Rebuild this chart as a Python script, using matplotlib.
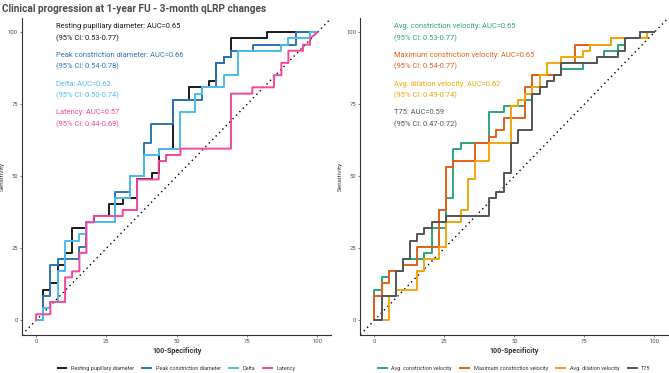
import numpy as np
import matplotlib
matplotlib.use("Agg")
import matplotlib.pyplot as plt

plt.rcParams['font.family'] = ['Roboto', 'DejaVu Sans']

# ROC 曲線的頂點 (100-Specificity, Sensitivity)
resting_x = [0, 2.6, 2.6, 5.1, 5.1, 7.7, 7.7, 10.3, 10.3, 12.8, 12.8, 17.9, 17.9, 20.5, 20.5, 25.8, 25.8, 30.8, 30.8,
             35.9, 35.9, 41.3, 41.3, 43.6, 43.6, 48.7, 48.7, 54.2, 54.2, 61.5, 61.5, 64.0, 64.0, 66.7, 66.7,
             69.3, 69.3, 82.1, 82.1, 100]
resting_y = [0, 0, 10.6, 10.6, 12.8, 12.8, 19.1, 19.1, 23.4, 23.4, 31.9, 31.9, 34.0, 34.0, 36.2, 36.2, 40.4, 40.4, 42.6,
             42.6, 48.9, 48.9, 51.0, 51.0, 59.6, 59.6, 76.6, 76.6, 80.9, 80.9, 83.0, 83.0, 89.4, 89.4, 91.5,
             91.5, 97.9, 97.9, 100, 100]

peak_x = [0, 2.6, 2.6, 5.1, 5.1, 7.7, 7.7, 15.4, 15.4, 17.9, 17.9, 28.2, 28.2, 33.3, 33.3, 38.3, 38.3, 41.0, 41.0,
          48.7, 48.7, 59.0, 59.0, 64.0, 64.0, 66.7, 66.7, 69.3, 69.3, 77.0, 77.0, 92.5, 92.5, 100]
peak_y = [0, 0, 8.5, 8.5, 19.1, 19.1, 21.3, 21.3, 25.5, 25.5, 34.0, 34.0, 44.7, 44.7, 50.0, 50.0, 61.7, 61.7, 68.1,
          68.1, 76.6, 76.6, 80.9, 80.9, 89.4, 89.4, 91.5, 91.5, 93.6, 93.6, 95.7, 95.7, 100, 100]

delta_x = [0, 2.6, 2.6, 5.1, 5.1, 7.7, 7.7, 10.3, 10.3, 15.4, 15.4, 17.9, 17.9, 28.2, 28.2, 33.3, 33.3, 38.3, 38.3,
           43.6, 43.6, 51.3, 51.3, 56.4, 56.4, 59.0, 59.0, 66.7, 66.7, 71.8, 71.8, 87.2, 87.2, 89.7, 89.7,
           97.4, 97.4, 100]
delta_y = [0, 0, 4.3, 4.3, 6.4, 6.4, 17.0, 17.0, 27.7, 27.7, 29.8, 29.8, 34.0, 34.0, 42.6, 42.6, 50.0, 50.0, 57.4,
           57.4, 59.6, 59.6, 72.3, 72.3, 78.7, 78.7, 80.9, 80.9, 85.1, 85.1, 93.6, 93.6, 95.7, 95.7, 97.9,
           97.9, 100, 100]

latency_x = [0, 0, 5.1, 5.1, 10.3, 10.3, 12.8, 12.8, 15.4, 15.4, 17.9, 17.9, 20.5, 20.5, 30.8, 30.8, 35.9, 35.9,
             43.6, 43.6, 46.2, 46.2, 51.3, 51.3, 69.3, 69.3, 76.9, 76.9, 84.6, 84.6, 87.2, 87.2, 89.7, 89.7,
             94.9, 94.9, 97.4, 97.4, 100]
latency_y = [0, 2.1, 2.1, 6.4, 6.4, 14.9, 14.9, 17.0, 17.0, 23.4, 23.4, 34.0, 34.0, 36.2, 36.2, 38.3, 38.3, 48.9,
             48.9, 55.3, 55.3, 57.4, 57.4, 59.6, 59.6, 78.7, 78.7, 80.9, 80.9, 85.1, 85.1, 89.4, 89.4, 93.6,
             93.6, 95.7, 95.7, 97.9, 100]

avgcon_x = [0, 0, 2.6, 2.6, 5.1, 5.1, 10.3, 10.3, 17.9, 17.9, 20.5, 20.5, 25.6, 25.6, 28.2, 28.2, 30.8, 30.8,
            41.0, 41.0, 46.2, 46.2, 53.8, 53.8, 56.4, 56.4, 66.7, 66.7, 74.4, 74.4, 79.5, 79.5, 82.0, 82.0,
            87.2, 87.2, 89.7, 89.7, 94.9, 94.9, 100, 100]
avgcon_y = [0, 10.6, 10.6, 14.9, 14.9, 17.0, 17.0, 21.3, 21.3, 23.4, 23.4, 31.9, 31.9, 42.6, 42.6, 59.6, 59.6, 61.7,
            61.7, 72.3, 72.3, 74.5, 74.5, 76.6, 76.6, 85.1, 85.1, 87.2, 87.2, 89.4, 89.4, 91.5, 91.5, 93.6,
            93.6, 95.7, 95.7, 97.9, 97.9, 100, 100, 100]

maxcon_x = [0, 0, 2.6, 2.6, 5.1, 5.1, 10.3, 10.3, 15.4, 15.4, 23.1, 23.1, 25.6, 25.6, 28.2, 28.2, 35.9, 35.9,
            41.0, 41.0, 43.6, 43.6, 46.2, 46.2, 53.8, 53.8, 56.4, 56.4, 66.7, 66.7, 71.8, 71.8, 84.6, 84.6,
            97.4, 97.4, 100]
maxcon_y = [0, 8.5, 8.5, 12.8, 12.8, 17.0, 17.0, 19.1, 19.1, 25.5, 25.5, 38.3, 38.3, 53.2, 53.2, 55.3, 55.3, 61.7,
            61.7, 63.8, 63.8, 66.0, 66.0, 70.2, 70.2, 80.9, 80.9, 85.1, 85.1, 89.4, 89.4, 95.7, 95.7, 97.9,
            97.9, 100, 100]

avgdil_x = [0, 5.1, 5.1, 7.7, 7.7, 15.4, 15.4, 17.9, 17.9, 23.1, 23.1, 25.6, 25.6, 30.8, 30.8, 33.3, 33.3, 35.9,
            35.9, 41.0, 41.0, 48.7, 48.7, 51.3, 51.3, 53.8, 53.8, 56.4, 56.4, 59.0, 59.0, 61.5, 61.5, 66.7,
            66.7, 74.4, 74.4, 76.9, 76.9, 84.6, 84.6, 97.4, 97.4, 100]
avgdil_y = [0, 0, 8.5, 8.5, 10.6, 10.6, 17.0, 17.0, 21.3, 21.3, 25.5, 25.5, 34.0, 34.0, 38.3, 38.3, 48.9, 48.9,
            55.3, 55.3, 61.7, 61.7, 74.5, 74.5, 76.6, 76.6, 78.7, 78.7, 80.9, 80.9, 85.1, 85.1, 89.4, 89.4,
            91.5, 91.5, 93.6, 93.6, 95.7, 95.7, 97.9, 97.9, 100, 100]

t75_x = [0, 2.6, 2.6, 7.7, 7.7, 10.3, 10.3, 12.8, 12.8, 15.4, 15.4, 17.9, 17.9, 20.5, 20.5, 25.6, 25.6, 41.0, 41.0,
         43.6, 43.6, 46.2, 46.2, 48.7, 48.7, 51.3, 51.3, 56.4, 56.4, 59.0, 59.0, 61.5, 61.5, 64.1, 64.1, 66.7,
         66.7, 79.5, 79.5, 87.2, 87.2, 89.7, 89.7, 94.9, 94.9, 100]
t75_y = [0, 0, 8.5, 8.5, 17.0, 17.0, 21.3, 21.3, 27.7, 27.7, 29.8, 29.8, 31.9, 31.9, 34.0, 34.0, 36.2, 36.2, 42.6,
         42.6, 44.7, 44.7, 51.0, 51.0, 61.7, 61.7, 66.0, 66.0, 78.7, 78.7, 80.9, 80.9, 83.0, 83.0, 85.1, 85.1,
         89.4, 89.4, 91.5, 91.5, 93.6, 93.6, 97.9, 97.9, 100, 100]

left_names = ["Resting pupillary diameter", "Peak constriction diameter", "Delta", "Latency"]
left_auc = ["0.65", "0.66", "0.62", "0.57"]
left_ci = ["0.53-0.77", "0.54-0.78", "0.50-0.74", "0.44-0.69"]
left_colors = ["#1a1a1a", "#2e75b6", "#4cbbef", "#f4479c"]

right_names = ["Avg. constriction velocity", "Maximum constriction velocity", "Avg. dilation velocity", "T75"]
right_auc = ["0.65", "0.65", "0.62", "0.59"]
right_ci = ["0.53-0.77", "0.54-0.77", "0.49-0.74", "0.47-0.72"]
right_colors = ["#2ea57a", "#e2601a", "#f2a60a", "#555555"]

ticks = [0, 25, 50, 75, 100]

fig = plt.figure(figsize=(6.69, 3.73), dpi=100)
ax1 = fig.add_axes([0.0329, 0.1027, 0.4625, 0.8493])
ax2 = fig.add_axes([0.5386, 0.1027, 0.4604, 0.8493])

panels = [
    (ax1, [(resting_x, resting_y), (peak_x, peak_y), (delta_x, delta_y), (latency_x, latency_y)],
     left_names, left_auc, left_ci, left_colors),
    (ax2, [(avgcon_x, avgcon_y), (maxcon_x, maxcon_y), (avgdil_x, avgdil_y), (t75_x, t75_y)],
     right_names, right_auc, right_ci, right_colors),
]

text_y = [102, 92, 82, 72]

for ax, curves, names, aucs, cis, cols in panels:
    ax.axline((0, 0), slope=1, color="black", ls=(0, (1, 2.5)), lw=1.0, zorder=1)
    for (cx, cy), name, col in zip(curves, names, cols):
        ax.plot(cx, cy, color=col, lw=1.4, label=name, zorder=2)
    for ty, name, auc, ci, col in zip(text_y, names, aucs, cis, cols):
        ax.text(7, ty, f"{name}: AUC={auc}", color=col, fontsize=5.4, va="center", ha="left")
        ax.text(7, ty - 4, f"(95% CI: {ci})", color=col, fontsize=5.4, va="center", ha="left")

    ax.set_xlim(-5, 105)
    ax.set_ylim(-5, 105)
    ax.set_xticks(ticks)
    ax.set_yticks(ticks)
    ax.tick_params(labelsize=4.2, colors="#4d4d4d", length=1.5, width=0.5, pad=1.5)
    for s in ["top", "right"]:
        ax.spines[s].set_visible(False)
    for s in ["left", "bottom"]:
        ax.spines[s].set_color("#333333")
        ax.spines[s].set_linewidth(0.8)
    ax.set_xlabel("100-Specificity", fontsize=5.1, fontweight="bold", color="#333333", labelpad=2.5)
    ax.set_ylabel("Sensitivity", fontsize=4.6, color="#333333", labelpad=2.5)
    leg = ax.legend(loc="center", bbox_to_anchor=(0.5, -0.108), ncol=4, frameon=False, fontsize=4.0,
                    handlelength=1.6, handletextpad=0.8, columnspacing=1.5, borderaxespad=0)
    for t in leg.get_texts():
        t.set_color("#333333")

fig.text(0.003, 0.99, "Clinical progression at 1-year FU - 3-month qLRP changes", fontsize=7.3,
         fontweight="bold", color="#4d4d4d", va="top", ha="left")

fig.savefig("out.png", dpi=100)
